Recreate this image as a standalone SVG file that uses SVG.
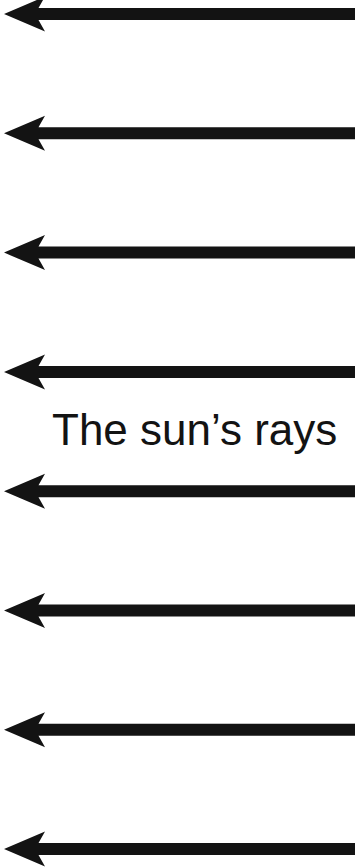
<svg xmlns="http://www.w3.org/2000/svg" width="359" height="868" viewBox="0 0 359 868">
<style>
.ray{fill:#131313;}
.lbl{font-family:"Liberation Sans",Arial,sans-serif;font-size:44px;fill:#131313;}
</style>
<defs>
<path id="arrow" d="M4,0 L45,-17.5 L38.5,-6 L355,-6 L355,6 L38.5,6 L45,17.5 Z"/>
</defs>
<g id="connectors">
<use href="#arrow" class="ray" transform="translate(0,14)"/>
<use href="#arrow" class="ray" transform="translate(0,133.3)"/>
<use href="#arrow" class="ray" transform="translate(0,252.6)"/>
<use href="#arrow" class="ray" transform="translate(0,371.9)"/>
<use href="#arrow" class="ray" transform="translate(0,491.2)"/>
<use href="#arrow" class="ray" transform="translate(0,610.5)"/>
<use href="#arrow" class="ray" transform="translate(0,729.8)"/>
<use href="#arrow" class="ray" transform="translate(0,849.1)"/>
</g>
<g id="label">
<text class="lbl" x="52" y="445">The sun’s rays</text>
</g>
</svg>
